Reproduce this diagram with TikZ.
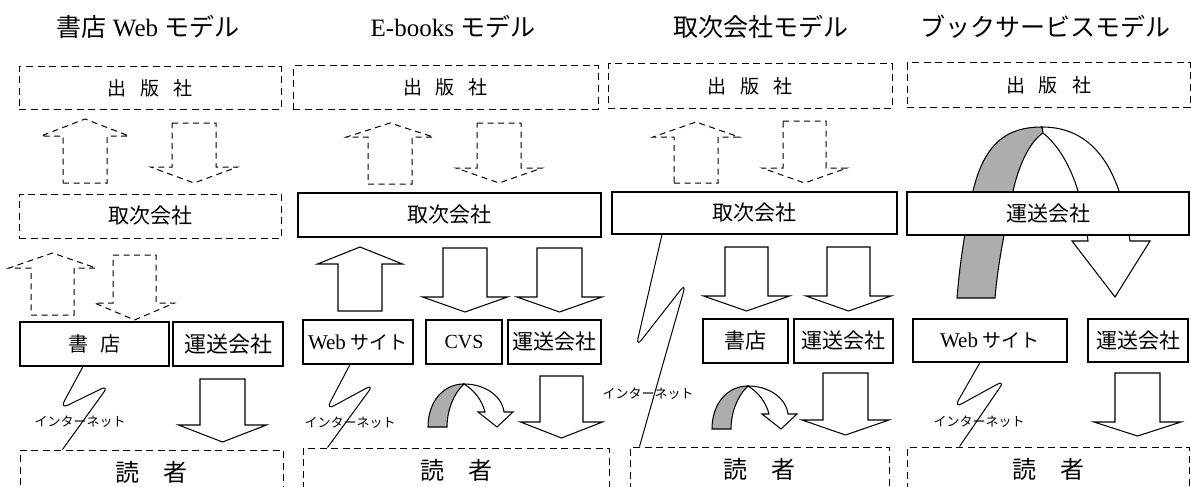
\documentclass[tikz,border=0pt]{standalone}
\usepackage{fontspec}
\setmainfont{Liberation Serif}
\newfontfamily\jpfont{Noto Sans CJK JP}
\usetikzlibrary{calc}
\newcommand\J[1]{{\jpfont #1}}
\newcommand\blockarrow[7]{\path[#1] ({#2-#3},#5) -- ({#2+#3},#5) -- ({#2+#3},#6) -- ({#2+#4},#6) -- (#2,#7) -- ({#2-#4},#6) -- ({#2-#3},#6) -- cycle;}
\newcommand\pubtext{\fontsize{19pt}{19pt}\selectfont\jpfont 出\hspace{14pt}版\hspace{14pt}社}
\newcommand\readertext{\fontsize{24pt}{24pt}\selectfont\jpfont 読　者}
\newcommand\webtext{{\fontsize{21pt}{21pt}\selectfont Web}\hspace{5pt}{\fontsize{19pt}{19pt}\selectfont\jpfont サイト}}
\newcommand\curvedarrow{%
  \path[shade] (428,427) .. controls (428,402) and (443,384) .. (464,384) .. controls (454,393) and (447,410) .. (447,427) -- cycle;
  \path[sarw] (464,384) .. controls (485,384) and (502,396) .. (504,412) -- (513,412) -- (497,427) -- (478,412) -- (485,412) .. controls (482,400) and (474,390) .. (464,384) -- cycle;}
\begin{document}
\begin{tikzpicture}[x=1pt,y=-1pt,
  dbox/.style={draw, line width=1pt, dash pattern=on 7pt off 4.5pt, inner sep=0pt},
  sbox/.style={draw, line width=1.05pt, fill=white, inner sep=0pt},
  darw/.style={draw, line width=1pt, dash pattern=on 6pt off 4.5pt, line join=miter},
  sarw/.style={draw, line width=1.05pt, fill=white, line join=miter},
  shade/.style={draw, line width=1.05pt, fill=black!32},
  bolt/.style={draw, line width=1pt, rounded corners=9pt},
  ttl/.style={font=\fontsize{25pt}{25pt}\selectfont},
  lbl/.style={font=\fontsize{21pt}{21pt}\selectfont\jpfont},
  net/.style={font=\fontsize{13pt}{13pt}\selectfont\jpfont, inner sep=0pt},
]
\clip (0,0) rectangle (1191,487);
\fill[white] (0,0) rectangle (1191,487);

% ---------- column 1 ----------
\node[ttl] (t1) at (148,27) {\J{書店} Web \J{モデル}};
\blockarrow{darw}{85}{22}{44}{183}{136}{119}
\blockarrow{darw}{194}{22}{43.5}{123}{167}{183}
\blockarrow{darw}{52.5}{21.5}{43.5}{315}{268}{253}
\blockarrow{darw}{134.5}{21.5}{40}{255}{303}{320}
\blockarrow{sarw}{222.5}{22.5}{44}{379}{425}{442}
\node[dbox, minimum width=262pt, minimum height=42pt] (pub1) at (150,88) {\pubtext};
\node[dbox, lbl, minimum width=262pt, minimum height=44pt] (tori1) at (150,216) {取次会社};
\node[sbox, lbl, font=\fontsize{20pt}{20pt}\selectfont\jpfont, minimum width=149pt, minimum height=44pt] (shoten1) at (94.5,344) {書\hspace{12pt}店};
\node[sbox, lbl, font=\fontsize{22pt}{22pt}\selectfont\jpfont, minimum width=110pt, minimum height=44pt] (unso1) at (228,344) {運送会社};
\node[dbox, minimum width=263pt, minimum height=44pt] (reader1) at (151.5,472) {\readertext};
\coordinate (b1s) at ($(shoten1.south)+(-11.5,0)$);
\coordinate (b1e) at ($(reader1.north west)+(43,0)$);
\draw[bolt] (b1s) -- (60,409) -- (109,385) -- (b1e);
\node[net] (n1) at (80,422) {インターネット};

% ---------- column 2 ----------
\node[ttl] (t2) at (453,27) {E-books \J{モデル}};
\blockarrow{darw}{390}{22}{43.5}{184}{137}{123}
\blockarrow{darw}{499}{22}{43}{123}{168}{183}
\blockarrow{sarw}{360}{22}{42.5}{311}{264}{247}
\blockarrow{sarw}{465}{22}{42.5}{248}{297}{312}
\blockarrow{sarw}{559.5}{22.5}{42.5}{248}{297}{312}
\blockarrow{sarw}{561.5}{21.5}{41}{376}{422}{438}
\curvedarrow
\node[dbox, minimum width=305pt, minimum height=43pt] (pub2) at (445.5,87.5) {\pubtext};
\node[sbox, lbl, minimum width=303pt, minimum height=44pt] (tori2) at (449.5,215) {取次会社};
\node[sbox, minimum width=110pt, minimum height=44pt] (web2) at (358,342) {\webtext};
\node[sbox, font=\fontsize{20pt}{20pt}\selectfont, minimum width=76pt, minimum height=44pt] (cvs2) at (464,342) {CVS};
\node[sbox, lbl, minimum width=93pt, minimum height=44pt] (unso2) at (554.5,342) {運送会社};
\node[dbox, minimum width=306pt, minimum height=44pt] (reader2) at (456,470) {\readertext};
\coordinate (b2s) at ($(web2.south)+(-8,0)$);
\coordinate (b2e) at ($(reader2.north west)+(25,0)$);
\draw[bolt] (b2s) -- (326,410) -- (374,384) -- (b2e);
\node[net] (n2) at (350,423) {インターネット};

% ---------- column 3 ----------
\node[ttl] (t3) at (761,27) {\J{取次会社モデル}};
\blockarrow{darw}{696}{22}{43}{183}{137}{122}
\blockarrow{darw}{804.5}{21.5}{42.5}{121}{168}{183}
\blockarrow{sarw}{746.5}{21.5}{43}{247}{296}{311}
\blockarrow{sarw}{848.5}{21.5}{42.5}{247}{296}{311}
\blockarrow{sarw}{845.5}{22.5}{43.5}{373}{420}{435}
\begin{scope}[shift={(284,2)}]
\curvedarrow
\end{scope}
\node[dbox, minimum width=284pt, minimum height=44pt] (pub3) at (750,86) {\pubtext};
\node[sbox, lbl, minimum width=285pt, minimum height=42pt] (tori3) at (754.5,213) {取次会社};
\node[sbox, lbl, minimum width=85pt, minimum height=44pt] (shoten3) at (745.5,341) {書店};
\node[sbox, lbl, minimum width=99pt, minimum height=44pt] (unso3) at (843.5,341) {運送会社};
\node[dbox, minimum width=259pt, minimum height=44pt] (reader3) at (759.5,469) {\readertext};
\coordinate (b3s) at ($(tori3.south)+(-92.5,0)$);
\coordinate (b3e) at ($(reader3.north west)+(10,0)$);
\draw[bolt] (b3s) -- (636,347) -- (686,283) -- (b3e);
\node[net] (n3) at (648,394) {インターネット};

% ---------- column 4 ----------
\node[ttl] (t4) at (1045,27) {\J{ブックサービスモデル}};
\path[shade] (957,298) .. controls (960,260) and (966,225) .. (973,191) .. controls (985,140) and (1010,127) .. (1042,127) -- (1043,133) .. controls (1032,140) and (1020,160) .. (1013,191) .. controls (1008,215) and (998,260) .. (995,298) -- cycle;
\path[sarw] (1042,127) .. controls (1080,127) and (1105,150) .. (1119,191) .. controls (1123,210) and (1128,225) .. (1130,241) -- (1150,241) -- (1115,297) -- (1072,241) -- (1088,241) .. controls (1086,225) and (1082,205) .. (1078,191) .. controls (1070,165) and (1058,145) .. (1043,133) -- cycle;
\blockarrow{sarw}{1137.5}{22.5}{43.5}{373}{422}{436}
\node[dbox, minimum width=283pt, minimum height=44pt] (pub4) at (1048.5,85) {\pubtext};
\node[sbox, lbl, minimum width=282pt, minimum height=43pt] (unso4) at (1048,213.5) {運送会社};
\node[sbox, minimum width=154pt, minimum height=43pt] (web4) at (990,340.5) {\webtext};
\node[sbox, lbl, minimum width=100pt, minimum height=43pt] (unso4b) at (1138,340.5) {運送会社};
\node[dbox, minimum width=282pt, minimum height=44pt] (reader4) at (1048,469) {\readertext};
\coordinate (b4s) at ($(web4.south)+(-10,0)$);
\coordinate (b4e) at ($(reader4.north west)+(53,0)$);
\draw[bolt] (b4s) -- (954,408) -- (1005,380) -- (b4e);
\node[net] (n4) at (979,422) {インターネット};
\end{tikzpicture}
\end{document}
